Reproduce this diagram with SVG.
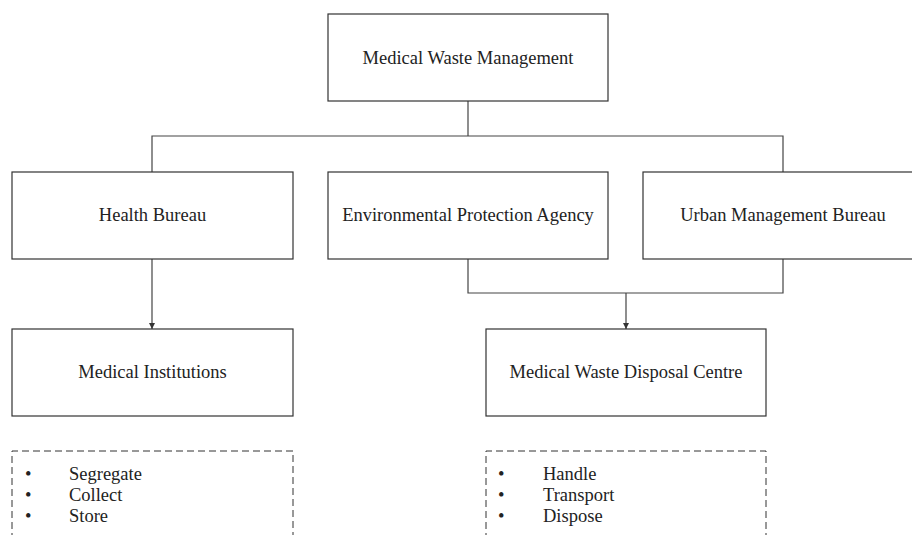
<svg xmlns="http://www.w3.org/2000/svg" width="912" height="535" viewBox="0 0 912 535">
<defs>
<style>
.box{fill:#fff;stroke:#333;stroke-width:1.2}
.dash{fill:none;stroke:#333;stroke-width:1;stroke-dasharray:7,4}
.lbl{font-family:"Liberation Serif","Times New Roman",serif;font-size:18.5px;fill:#222;text-anchor:middle}
.li{font-family:"Liberation Serif","Times New Roman",serif;font-size:18.5px;fill:#222}
.conn{fill:none;stroke:#444;stroke-width:1.2}
</style>
<marker id="arr" viewBox="0 0 10 10" refX="10" refY="5" markerWidth="6" markerHeight="6" markerUnits="userSpaceOnUse" orient="auto">
<path d="M0,0 L10,5 L0,10 z" fill="#333"/>
</marker>
</defs>
<rect width="912" height="535" fill="#fff"/>
<g id="connectors">
<path class="conn" d="M468,101 V136"/>
<path class="conn" d="M152,172 V136 H783 V172"/>
<path class="conn" d="M152,259 V329" marker-end="url(#arr)"/>
<path class="conn" d="M468,259 V293 H783 V259"/>
<path class="conn" d="M626,293 V329" marker-end="url(#arr)"/>
</g>
<g id="top">
<rect class="box" x="328" y="14" width="280" height="87"/>
<text class="lbl" x="468" y="64">Medical Waste Management</text>
</g>
<g id="health">
<rect class="box" x="12" y="172" width="281" height="87"/>
<text class="lbl" x="152.5" y="221">Health Bureau</text>
</g>
<g id="epa">
<rect class="box" x="328" y="172" width="280" height="87"/>
<text class="lbl" x="468" y="221">Environmental Protection Agency</text>
</g>
<g id="urban">
<rect class="box" x="643" y="172" width="280" height="87"/>
<text class="lbl" x="783" y="221">Urban Management Bureau</text>
</g>
<g id="institutions">
<rect class="box" x="12" y="329" width="281" height="87"/>
<text class="lbl" x="152.5" y="378">Medical Institutions</text>
</g>
<g id="disposal">
<rect class="box" x="486" y="329" width="280" height="87"/>
<text class="lbl" x="626" y="378">Medical Waste Disposal Centre</text>
</g>
<g id="list-left">
<path class="dash" d="M12,540 V451 H293 V540"/>
<text class="li" x="25" y="480">•</text>
<text class="li" x="69" y="480">Segregate</text>
<text class="li" x="25" y="501">•</text>
<text class="li" x="69" y="501">Collect</text>
<text class="li" x="25" y="522">•</text>
<text class="li" x="69" y="522">Store</text>
</g>
<g id="list-right">
<path class="dash" d="M486,540 V451 H766 V540"/>
<text class="li" x="498" y="480">•</text>
<text class="li" x="543" y="480">Handle</text>
<text class="li" x="498" y="501">•</text>
<text class="li" x="543" y="501">Transport</text>
<text class="li" x="498" y="522">•</text>
<text class="li" x="543" y="522">Dispose</text>
</g>
</svg>
